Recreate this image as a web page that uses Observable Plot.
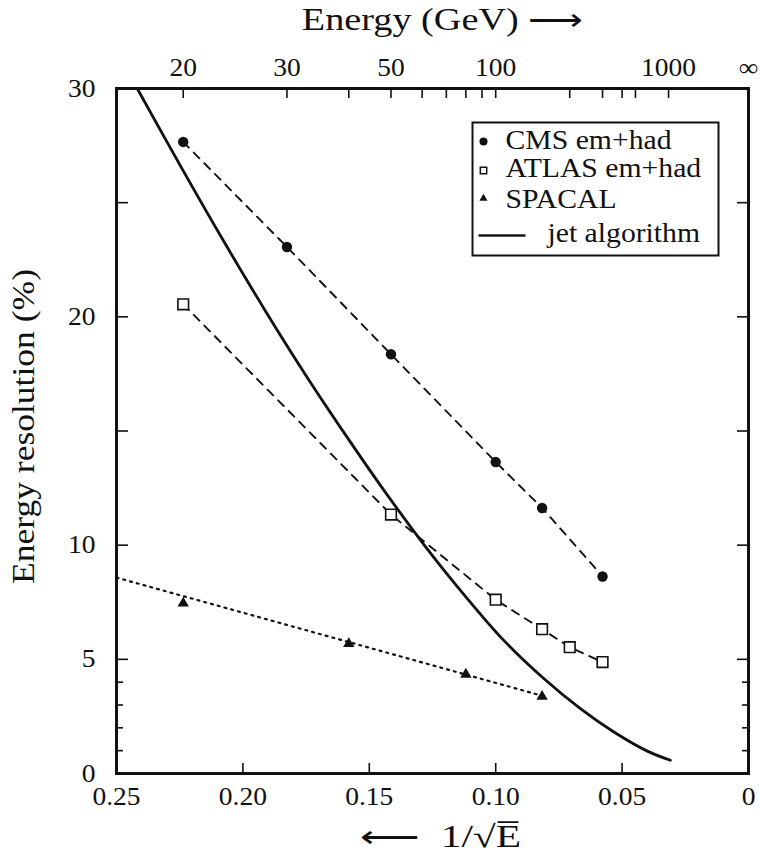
<!DOCTYPE html>
<html><head><meta charset="utf-8">
<script src="https://cdn.jsdelivr.net/npm/d3@7"></script>
<script src="https://cdn.jsdelivr.net/npm/@observablehq/plot@0.6"></script>
<style>
body{margin:0;background:#fff}
#chart svg{font-family:"Liberation Serif","Times New Roman",serif;}
</style>
</head><body><div id="chart"></div>
<script>
// ---- data ----
const cmsE = [20, 30, 50, 100, 150, 300];
const cmsRes = [27.66, 23.06, 18.36, 13.64, 11.63, 8.63];
const atlasE = [20, 50, 100, 150, 200, 300];
const atlasRes = [20.55, 11.34, 7.61, 6.32, 5.53, 4.88];
const spacalE = [20, 40, 80, 150];
const spacalRes = [7.46, 5.68, 4.34, 3.37];
const spacalFitX = [0.25, 0.0815];
const spacalFitRes = [8.58, 3.40];
const jetX = [0.2418, 0.2247, 0.2089, 0.1911, 0.1741, 0.1594, 0.1456, 0.1278, 0.1119, 0.0969, 0.0811, 0.0665, 0.0534, 0.0400, 0.0309];
const jetRes = [30.0, 26.61, 23.56, 20.26, 17.27, 14.83, 12.62, 9.94, 7.75, 5.84, 4.17, 2.84, 1.83, 0.98, 0.58];
const xTickValues = [0.25, 0.20, 0.15, 0.10, 0.05, 0];
const xInnerTicks = [0.20, 0.15, 0.10, 0.05];
const yLabelValues = [0, 5, 10, 20, 30];
const yMajorTicks = [5, 10, 15, 20, 25];
const yMinorTicks = [1, 2, 3, 4];
const energyTicks = [20, 30, 40, 50, 60, 70, 80, 90, 100, 200, 300, 400, 500, 1000];
const energyLabelE = [20, 30, 50, 100, 1000, Infinity];
const energyLabelText = ["20", "30", "50", "100", "1000", "∞"];
const legendLabels = ["CMS em+had", "ATLAS em+had", "SPACAL", "jet algorithm"];
const topTitle = "Energy (GeV) ⟶";
const bottomTitle = "⟵  1/√E\u0305";
const leftTitle = "Energy resolution (%)";

const inv = e => 1 / Math.sqrt(e);
const cms = cmsE.map((e, i) => ({x: inv(e), y: cmsRes[i]}));
const atlas = atlasE.map((e, i) => ({x: inv(e), y: atlasRes[i]}));
const spacal = spacalE.map((e, i) => ({x: inv(e), y: spacalRes[i]}));
const spacalFit = spacalFitX.map((x, i) => ({x, y: spacalFitRes[i]}));
const jet = jetX.map((x, i) => ({x, y: jetRes[i]}));

const W = 760, H = 858, mL = 116, mR = 12, mT = 88, mB = 85;
const fw = W - mL - mR, fh = H - mT - mB;
const ink = "#111";
const txt = (s, o) => Plot.text([s], {text: d => d, fill: ink, lineAnchor: "middle", ...o});

const plot = Plot.plot({
  width: W, height: H,
  marginLeft: mL, marginRight: mR, marginTop: mT, marginBottom: mB,
  style: {fontFamily: "Liberation Serif, Times New Roman, serif", fontSize: "25px", color: ink, background: "#fff"},
  x: {domain: [0.25, 0]},
  y: {domain: [0, 30]},
  marks: [
    // legend box
    Plot.frame({insetLeft: 356, insetTop: 34, insetRight: 30, insetBottom: 518, stroke: ink, strokeWidth: 2, fill: "white"}),
    // series
    Plot.line(jet, {x: "x", y: "y", curve: "catmull-rom", stroke: ink, strokeWidth: 2.8}),
    Plot.line(cms, {x: "x", y: "y", stroke: ink, strokeWidth: 1.9, strokeDasharray: "8,7"}),
    Plot.line(atlas, {x: "x", y: "y", stroke: ink, strokeWidth: 1.9, strokeDasharray: "8,7"}),
    Plot.line(spacalFit, {x: "x", y: "y", stroke: ink, strokeWidth: 2.2, strokeDasharray: "2,5"}),
    Plot.dot(cms, {x: "x", y: "y", r: 5.2, fill: ink, symbol: "circle"}),
    Plot.dot(atlas, {x: "x", y: "y", r: 6, fill: "white", stroke: ink, strokeWidth: 1.6, symbol: "square"}),
    Plot.dot(spacal, {x: "x", y: "y", r: 4.2, fill: ink, symbol: "triangle"}),
    // frame
    Plot.frame({stroke: ink, strokeWidth: 3}),
    // inner ticks
    Plot.tickX(xInnerTicks, {x: d => d, insetTop: fh - 10, stroke: ink, strokeWidth: 1.6}),
    Plot.tickX(energyTicks, {x: d => inv(d), insetBottom: fh - 10, stroke: ink, strokeWidth: 1.6}),
    Plot.tickY(yMajorTicks, {y: d => d, insetRight: fw - 12, stroke: ink, strokeWidth: 1.6}),
    Plot.tickY(yMajorTicks, {y: d => d, insetLeft: fw - 11, stroke: ink, strokeWidth: 1.6}),
    Plot.tickY(yMinorTicks, {y: d => d, insetRight: fw - 7, stroke: ink, strokeWidth: 1.6}),
    Plot.tickY(yMinorTicks, {y: d => d, insetLeft: fw - 6, stroke: ink, strokeWidth: 1.6}),
    // axes labels
    Plot.axisX({ticks: xTickValues, tickSize: 0, tickPadding: 14, fontSize: 25, label: null,
      tickFormat: d => d === 0 ? "0" : d.toFixed(2)}),
    Plot.axisY({ticks: yLabelValues, tickSize: 0, tickPadding: 21, fontSize: 25, label: null}),
    Plot.text(energyLabelE, {x: d => inv(d), frameAnchor: "top", lineAnchor: "middle", dy: -21,
      text: (d, i) => energyLabelText[i], fontSize: 25, fill: ink}),
    // titles
    txt(topTitle, {frameAnchor: "top", dx: 10, dy: -68, fontSize: 31}),
    txt(bottomTitle, {frameAnchor: "bottom", dx: 8, dy: 64, fontSize: 31}),
    txt(leftTitle, {frameAnchor: "left", textAnchor: "middle", dx: -92.5, dy: -4.5, rotate: -90, fontSize: 31}),
    // legend entries
    Plot.dot([0], {frameAnchor: "top-left", dx: 367, dy: 53, r: 4, fill: ink, symbol: "circle"}),
    Plot.dot([0], {frameAnchor: "top-left", dx: 367, dy: 82, r: 3.6, fill: "white", stroke: ink, strokeWidth: 1.5, symbol: "square"}),
    Plot.dot([0], {frameAnchor: "top-left", dx: 367, dy: 110, r: 3, fill: ink, symbol: "triangle"}),
    Plot.frame({insetLeft: 362, insetRight: 223, insetTop: 145.8, insetBottom: 536.8, fill: ink, stroke: null}),
    txt(legendLabels[0], {frameAnchor: "top-left", dx: 389, dy: 51.7, textAnchor: "start", fontSize: 27}),
    txt(legendLabels[1], {frameAnchor: "top-left", dx: 389, dy: 80.1, textAnchor: "start", fontSize: 27}),
    txt(legendLabels[2], {frameAnchor: "top-left", dx: 389, dy: 110.4, textAnchor: "start", fontSize: 27}),
    txt(legendLabels[3], {frameAnchor: "top-left", dx: 431, dy: 145.1, textAnchor: "start", fontSize: 27})
  ]
});

document.getElementById("chart").appendChild(plot);

// widen glyphs like the typeset original; titles are fitted to their measured span
const targetLen = {[topTitle]: 281, [bottomTitle]: 160, [leftTitle]: 315};
d3.select(plot).selectAll("text").each(function () {
  const t = this.getAttribute("transform");
  if (!t) return;
  let s = 1.1;
  const target = targetLen[this.textContent];
  if (target) {
    const len = this.getComputedTextLength();
    if (len > 0) s = Math.max(0.9, Math.min(1.4, target / len));
  }
  this.setAttribute("transform", t + " scale(" + s.toFixed(3) + ",1)");
});
</script>
</body></html>
